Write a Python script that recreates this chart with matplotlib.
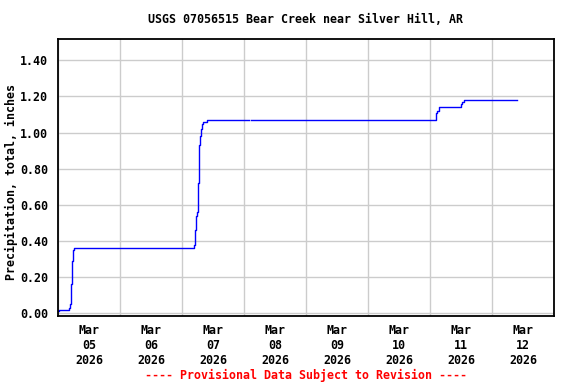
import numpy as np
import pandas as pd
import matplotlib
matplotlib.use("Agg")
import matplotlib.pyplot as plt

# Precipitation readings: hours after Mar 05 2026 00:00, cumulative inches
hours = [0.0, 0.3, 4.1, 4.5, 5.0, 5.4, 5.8, 6.3,
         52.6, 53.0, 53.4, 53.7, 54.1, 54.5, 54.9, 55.3, 55.7, 56.2, 57.5,
         74.1, 74.9,
         146.3, 146.9, 147.4, 156.0, 156.5, 157.3, 177.8]
precip = [0.01, 0.02, 0.03, 0.05, 0.16, 0.29, 0.35, 0.36,
          0.38, 0.46, 0.54, 0.56, 0.72, 0.93, 0.98, 1.02, 1.05, 1.06, 1.07,
          np.nan, 1.07,
          1.11, 1.12, 1.14, 1.16, 1.17, 1.18, 1.18]

day_labels = ["Mar\n05\n2026", "Mar\n06\n2026", "Mar\n07\n2026", "Mar\n08\n2026",
              "Mar\n09\n2026", "Mar\n10\n2026", "Mar\n11\n2026", "Mar\n12\n2026"]
y_ticks = [0.0, 0.2, 0.4, 0.6, 0.8, 1.0, 1.2, 1.4]

start = pd.Timestamp("2026-03-05")
times = start + pd.to_timedelta(hours, unit="h")
days = pd.date_range(start, periods=9, freq="D")
label_pos = days[:-1] + pd.Timedelta(hours=12)

font = {"family": "DejaVu Sans Mono", "weight": "bold", "size": 8.4}

fig = plt.figure(figsize=(5.76, 3.84), dpi=100)
ax = fig.add_axes([0.1007, 0.178, 0.861, 0.7197])

ax.plot(times, precip, color="#0000ff", linewidth=1.0, drawstyle="steps-post")

ax.set_xlim(days[0], days[-1])
ax.set_ylim(-0.013, 1.516)

ax.set_xticks(days, minor=False)
ax.set_xticklabels([])
ax.set_xticks(label_pos, minor=True)
ax.set_xticklabels(day_labels, minor=True, fontdict=font, linespacing=1.2)
ax.tick_params(axis="x", which="both", length=0, pad=6)

ax.set_yticks(y_ticks)
ax.set_yticklabels(["%.2f" % v for v in y_ticks], fontdict=font)
ax.tick_params(axis="y", length=0, pad=7)

ax.grid(True, which="major", color="#cccccc", linewidth=1.0)
ax.set_axisbelow(True)
for s in ax.spines.values():
    s.set_linewidth(1.3)
    s.set_color("black")

fig.text(11.5 / 576, 1 - 181.5 / 384, "Precipitation, total, inches",
         rotation=90, ha="center", va="center", **font)
fig.text(0.531, 0.949, "USGS 07056515 Bear Creek near Silver Hill, AR",
         ha="center", va="center", **font)
fig.text(0.531, 0.023, "---- Provisional Data Subject to Revision ----",
         ha="center", va="center", color="red", **font)

fig.savefig("out.png", dpi=100)
